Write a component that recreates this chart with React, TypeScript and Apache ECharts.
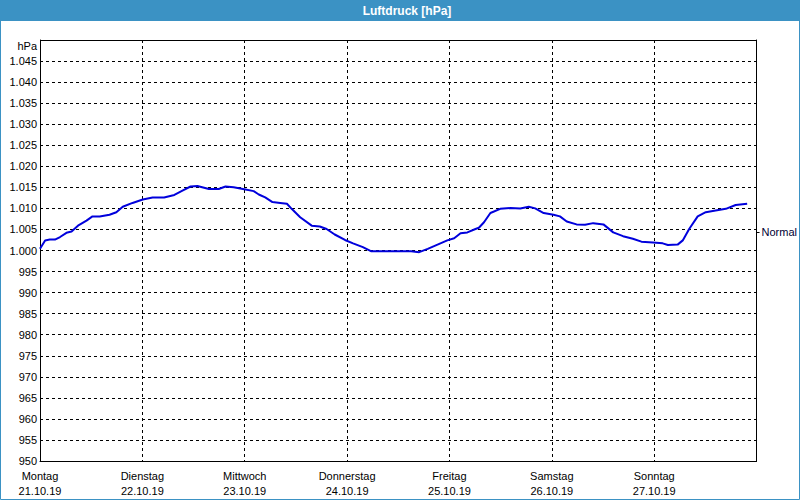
import React, { useEffect, useRef } from "react";
import * as echarts from "echarts";

const TITLE = "Luftdruck [hPa]";
const DAY_NAMES = ["Montag", "Dienstag", "Mittwoch", "Donnerstag", "Freitag", "Samstag", "Sonntag"];
const DATE_LABELS = ["21.10.19", "22.10.19", "23.10.19", "24.10.19", "25.10.19", "26.10.19", "27.10.19"];
const NORMAL = 1004.3;

// hours since Monday 21.10.19 00:00
const HOURS = [
  0, 1.2, 2.3, 3.5, 4.7, 6.2, 7.4, 8.9, 10.9, 12.3, 14.0, 16.3, 17.9, 19.4, 21.7,
  24.1, 26.4, 29.1, 31.5, 33.4, 35.3, 36.9, 39.6, 41.9, 43.5, 45.4,
  48.2, 50.1, 51.3, 52.8, 54.5, 56.3, 57.9, 59.0, 61.0, 63.7, 65.6, 67.2, 69.1,
  71.5, 73.4, 75.7, 77.7, 80.0, 81.6, 83.9, 87.0, 88.9, 90.9, 93.2,
  95.5, 97.1, 98.6, 100.2, 102.1, 102.9, 104.1, 105.6, 107.9, 110.3, 112.6, 114.6, 116.1, 118.1,
  120.4, 121.9, 123.5, 125.8, 127.8, 129.7, 132.1, 134.4, 136.7, 139.0, 141.0,
  143.7, 146.0, 147.2, 149.5, 150.7, 152.2, 154.2, 156.1, 158.4, 160.8, 163.1, 165.8,
];
const PRESSURE = [
  1000.4, 1002.4, 1002.6, 1002.6, 1003.2, 1004.2, 1004.5, 1005.9, 1007.1, 1008.1, 1008.1, 1008.5, 1009.1, 1010.4, 1011.3,
  1012.1, 1012.6, 1012.6, 1013.2, 1014.2, 1015.2, 1015.3, 1014.6, 1014.6, 1015.2, 1015.0,
  1014.5, 1014.1, 1013.3, 1012.6, 1011.5, 1011.3, 1011.1, 1009.9, 1007.9, 1005.9, 1005.7, 1005.1, 1003.8,
  1002.5, 1001.7, 1000.8, 999.8, 999.8, 999.8, 999.8, 999.8, 999.6, 1000.4, 1001.4,
  1002.4, 1002.9, 1004.1, 1004.3, 1005.1, 1005.4, 1006.7, 1008.9, 1009.9, 1010.1, 1010.0, 1010.4, 1010.0, 1008.9,
  1008.5, 1008.1, 1006.9, 1006.2, 1006.1, 1006.5, 1006.2, 1004.3, 1003.4, 1002.8, 1002.1,
  1001.9, 1001.7, 1001.3, 1001.4, 1002.4, 1005.1, 1008.1, 1009.1, 1009.5, 1009.9, 1010.8, 1011.1,
];

const FONT = "Liberation Sans";
const BLUE = "#3b92c4";

export default function App() {
  const ref = useRef<HTMLDivElement>(null);
  useEffect(() => {
    const chart = echarts.init(ref.current!, null, { renderer: "svg" });
    const fmtY = (v: number) => {
      if (v >= 1050) return "{u|hPa}";
      if (v >= 1000) return "1." + String(v - 1000).padStart(3, "0");
      return String(v);
    };
    chart.setOption({
      animation: false,
      backgroundColor: "#ffffff",
      textStyle: { fontFamily: FONT },
      graphic: [
        { type: "rect", shape: { x: 0, y: 0, width: 800, height: 21 }, style: { fill: BLUE }, z: 10 },
        {
          type: "text",
          x: 407,
          y: 10.5,
          style: { text: TITLE, fill: "#ffffff", font: `bold 12px "${FONT}"`, align: "center", verticalAlign: "middle" },
          z: 11,
        },
        {
          type: "rect",
          shape: { x: 0.5, y: 0.5, width: 799, height: 499 },
          style: { fill: "none", stroke: BLUE, lineWidth: 1 },
          z: 10,
        },
      ],
      grid: { left: 40, right: 40, top: 40, bottom: 39, show: false },
      xAxis: {
        type: "value",
        min: 0,
        max: 168,
        interval: 24,
        axisLine: { show: true, onZero: false, lineStyle: { color: "#000", width: 1 } },
        axisTick: { show: false },
        splitLine: { show: true, lineStyle: { color: "#000", type: [3, 3], width: 1 } },
        axisLabel: {
          showMaxLabel: false,
          margin: 7,
          color: "#000",
          fontSize: 11,
          fontFamily: FONT,
          lineHeight: 15,
          formatter: (v: number) => {
            const i = Math.round(v / 24);
            if (i >= DAY_NAMES.length) return "";
            return DAY_NAMES[i] + "\n" + DATE_LABELS[i];
          },
        },
      },
      yAxis: [
        {
          type: "value",
          min: 950,
          max: 1050,
          interval: 5,
          axisLine: { show: true, lineStyle: { color: "#000", width: 1 } },
          axisTick: { show: false },
          splitLine: { show: true, lineStyle: { color: "#000", type: [3, 3], width: 1 } },
          axisLabel: {
            margin: 3,
            color: "#000",
            fontSize: 11,
            fontFamily: FONT,
            formatter: fmtY,
            rich: { u: { fontSize: 11, fontFamily: FONT, color: "#000", padding: [11, 0, 0, 0] } },
          },
        },
        {
          type: "value",
          position: "right",
          min: 950,
          max: 1050,
          axisLine: { show: true, lineStyle: { color: "#000", width: 1 } },
          axisTick: { show: true, customValues: [NORMAL], length: 3, lineStyle: { color: "#000" } },
          splitLine: { show: false },
          axisLabel: {
            customValues: [NORMAL],
            margin: 5,
            color: "#000033",
            fontSize: 11,
            fontFamily: FONT,
            formatter: () => "Normal",
          },
        },
      ],
      series: [
        {
          type: "line",
          data: HOURS.map((h, i) => [h, PRESSURE[i]]),
          showSymbol: false,
          lineStyle: { color: "#0000dc", width: 2 },
          itemStyle: { color: "#0000dc" },
        },
        {
          type: "line",
          yAxisIndex: 0,
          data: [],
          markLine: {
            silent: true,
            symbol: "none",
            label: { show: false },
            lineStyle: { color: "#000", type: "solid", width: 1 },
            data: [[{ coord: [0, 1050] }, { coord: [168, 1050] }]],
          },
        },
      ],
    });
    return () => chart.dispose();
  }, []);
  return <div ref={ref} style={{ position: "fixed", left: 0, top: 0, width: 800, height: 500 }} />;
}
